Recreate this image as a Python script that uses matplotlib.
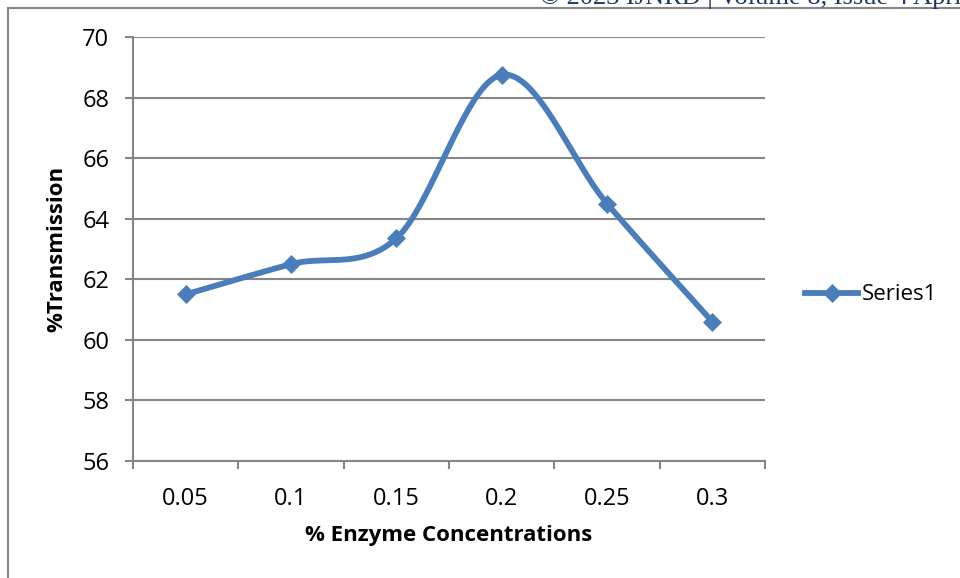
import numpy as np
import matplotlib.pyplot as plt
from matplotlib.lines import Line2D

concentrations = ["0.05", "0.1", "0.15", "0.2", "0.25", "0.3"]
transmission = [61.5, 62.5, 63.35, 68.75, 64.5, 60.6]
series_name = "Series1"
y_ticks = [56, 58, 60, 62, 64, 66, 68, 70]
header = "\u00a9 2023 IJNRD | Volume 8, Issue 4 April 2023 | ISSN: 2456-4184 | IJNRD.ORG"

line_color = "#4A7EBB"
grid_color = "#868686"


def smooth(xs, ys, steps=40):
    # cubic bezier through the points, control points from neighbours (1/6 rule)
    pts = np.column_stack([xs, ys]).astype(float)
    padded = np.vstack([pts[0], pts, pts[-1]])
    out = []
    for i in range(len(pts) - 1):
        p0, p1 = pts[i], pts[i + 1]
        c1 = p0 + (padded[i + 2] - padded[i]) / 6
        c2 = p1 - (padded[i + 3] - padded[i + 1]) / 6
        t = np.linspace(0, 1, steps)[:, None]
        seg = ((1 - t) ** 3 * p0 + 3 * (1 - t) ** 2 * t * c1
               + 3 * (1 - t) * t ** 2 * c2 + t ** 3 * p1)
        out.append(seg if i == 0 else seg[1:])
    out = np.vstack(out)
    return out[:, 0], out[:, 1]


plt.rcParams["font.family"] = ["Open Sans", "DejaVu Sans"]

W, H = 960, 578
fig = plt.figure(figsize=(W / 100, H / 100), dpi=100)

# chart border (left and top edges show, the rest runs off the page)
fig.add_artist(Line2D([8 / W, 8 / W], [0, 1 - 8 / H], color=grid_color, lw=1.5))
fig.add_artist(Line2D([8 / W, 1], [1 - 8 / H, 1 - 8 / H], color=grid_color, lw=1.5))
# running page header, only its lower edge falls inside the page
fig.text(540 / W, 1 - 4 / H, header, family="Liberation Serif", fontsize=19,
         color="#1F3864", ha="left", va="baseline")

ax = fig.add_axes([133 / W, 1 - 461 / H, (765 - 133) / W, (461 - 37) / H])
x = np.arange(len(concentrations))
sx, sy = smooth(x, transmission)
ax.plot(sx, sy, color=line_color, lw=4.2, solid_capstyle="round", zorder=3)
ax.plot(x, transmission, ls="none", marker="D", ms=9.5, color=line_color,
        mec=line_color, mew=0.5, zorder=4)

ax.set_xlim(-0.5, len(concentrations) - 0.5)
ax.set_ylim(y_ticks[0], y_ticks[-1])
ax.set_yticks(y_ticks)
ax.set_xticks(x)
ax.set_xticklabels(concentrations)
ax.set_xticks(np.arange(len(concentrations) + 1) - 0.5, minor=True)
ax.tick_params(axis="x", which="major", length=0, labelsize=17, pad=19)
ax.tick_params(axis="x", which="minor", length=6, width=1.5, color=grid_color)
ax.tick_params(axis="y", length=6, width=1.5, color=grid_color, labelsize=17, pad=11)
ax.grid(axis="y", color=grid_color, lw=1.5)
ax.set_axisbelow(True)
for side in ("top", "right"):
    ax.spines[side].set_visible(False)
for side in ("left", "bottom"):
    ax.spines[side].set_color(grid_color)
    ax.spines[side].set_linewidth(1.5)

ax.set_xlabel("% Enzyme Concentrations", fontsize=16, fontweight="bold", labelpad=10)
ax.set_ylabel("%Transmission", fontsize=16, fontweight="bold", labelpad=11)

handle = Line2D([], [], color=line_color, lw=4.2, marker="D", ms=9.5, mew=0.5)
fig.legend([handle], [series_name], loc="center left", frameon=False,
           bbox_to_anchor=(794 / W, 1 - 295 / H), fontsize=16,
           handlelength=2.4, handletextpad=0.15, borderpad=0)

fig.savefig("out.png", dpi=100)
